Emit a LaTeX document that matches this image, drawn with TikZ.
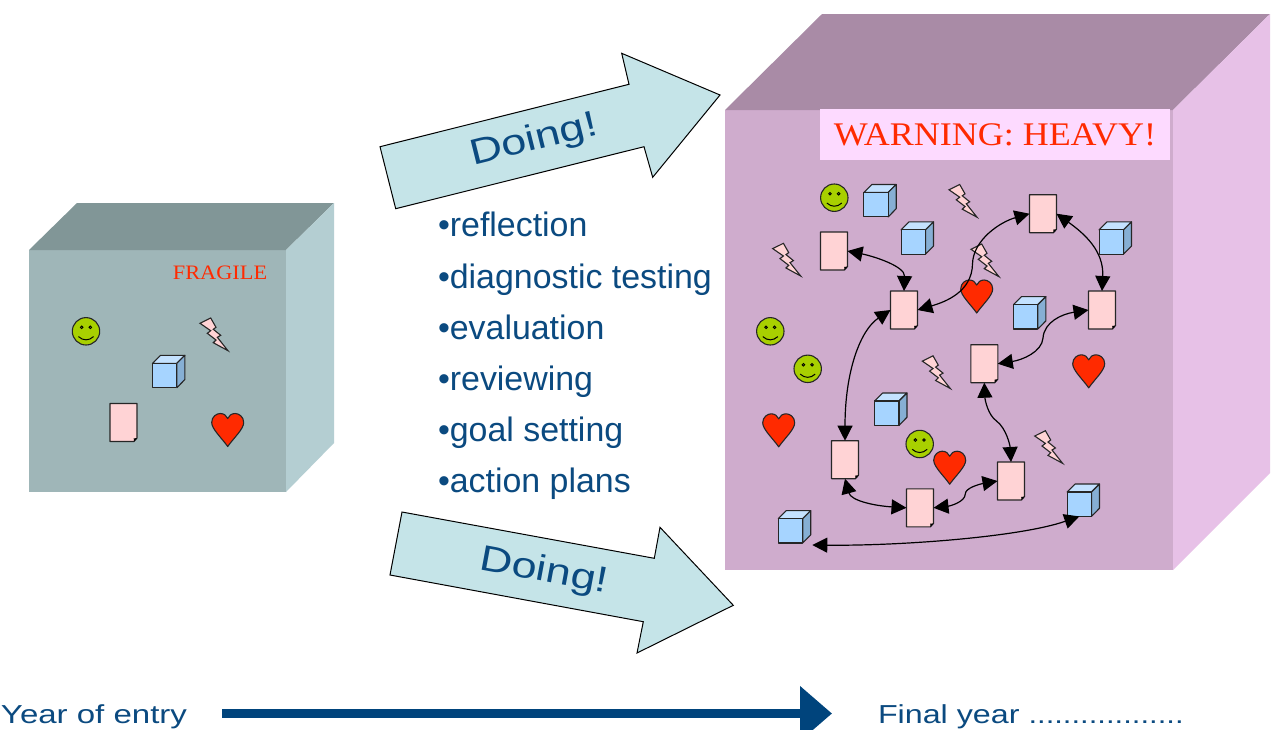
\documentclass[tikz,border=0pt]{standalone}
\usepackage{fontspec}
\setmainfont{Liberation Serif}
\newfontfamily\listfont{Liberation Sans}
\newfontfamily\widefont[FakeStretch=1.25]{Liberation Sans}
\newfontfamily\yearfont[FakeStretch=1.27]{Liberation Sans}
\newfontfamily\finalfont[FakeStretch=1.24]{Liberation Sans}
\newfontfamily\stretchserif[FakeStretch=1.09]{Liberation Serif}
\usetikzlibrary{arrows.meta}
\definecolor{navy}{HTML}{0B4A80}
\definecolor{barblue}{HTML}{00447C}
\definecolor{arrowfill}{HTML}{C5E4E8}
\definecolor{tfront}{HTML}{9FB6B8}
\definecolor{ttop}{HTML}{819697}
\definecolor{tside}{HTML}{B4CED2}
\definecolor{pfront}{HTML}{CFACCD}
\definecolor{ptop}{HTML}{A98BA6}
\definecolor{pside}{HTML}{E7C1E7}
\definecolor{warnbg}{HTML}{FDDAFF}
\definecolor{alert}{HTML}{FF2A00}
\definecolor{cubefront}{HTML}{A6D4FF}
\definecolor{cubetop}{HTML}{C4E2FF}
\definecolor{cubeside}{HTML}{86AFD4}
\definecolor{docpink}{HTML}{FFD3D5}
\definecolor{smile}{HTML}{A8D000}
\tikzset{
  bigarrow/.style={draw=black,line width=1pt,fill=arrowfill,line join=miter},
  outline/.style={draw=black!85!white,line width=1.1pt,line join=round},
  anchorbox/.style={rectangle,inner sep=0pt,outer sep=0pt,minimum width=#1,minimum height=#1},
  docbox/.style={rectangle,inner sep=0pt,outer sep=0pt,minimum width=27pt,minimum height=38pt},
  link/.style={draw=black,line width=1.2pt,{Triangle[length=15pt,width=15pt]}-{Triangle[length=15pt,width=15pt]}},
  listitem/.style={anchor=base west,inner sep=0pt,outer sep=0pt,text=navy,font=\listfont\fontsize{33.9}{38}\selectfont},
  doingtext/.style={inner sep=0pt,outer sep=0pt,text=navy,font=\widefont\fontsize{36}{42}\selectfont},
  axistext/.style={anchor=base west,inner sep=0pt,outer sep=0pt,text=navy},
}
\newcommand\cubeat[3]{\begin{scope}[shift={(#2,#3)}]
  \path[outline,fill=cubetop] (-12.2,-12.2)--(-4.2,-20.2)--(20.2,-20.2)--(12.2,-12.2)--cycle;
  \path[outline,fill=cubeside] (12.2,-12.2)--(20.2,-20.2)--(20.2,4)--(12.2,12.2)--cycle;
  \node[anchorbox=24.4pt,outline,fill=cubefront] (#1) at (0,0) {};
\end{scope}}
\newcommand\docat[3]{\begin{scope}[shift={(#2,#3)}]
  \node[docbox] (#1) at (0,0) {};
  \path[outline,fill=docpink] (-13.5,-19)--(13.5,-19)--(13.5,15.6)--(10.5,19)--(-13.5,19)--cycle;
  \fill[black] (13.5,15.6)--(10.5,19)--(10.2,15.9)--cycle;
\end{scope}}
\newcommand\smileat[3]{\begin{scope}[shift={(#2,#3)}]
  \node[circle,inner sep=0pt,outer sep=0pt,minimum size=27.4pt,outline,fill=smile] (#1) at (0,0) {};
  \draw[line width=.9pt] (-4.3,-4) circle (1.3) (4.3,-4) circle (1.3);
  \draw[line width=1pt] (-7.5,5.3) .. controls (-3,9.6) and (3,9.6) .. (7.5,5.3);
\end{scope}}
\newcommand\heartat[2]{\begin{scope}[shift={(#1,#2)}]
  \path[outline,fill=alert] (0,16.5) .. controls (-6,8) and (-16,-1) .. (-16,-7.5)
   .. controls (-16,-13.5) and (-11,-16.5) .. (-7.5,-16.5)
   .. controls (-4,-16.5) and (-1,-14.5) .. (0,-11.5)
   .. controls (1,-14.5) and (4,-16.5) .. (7.5,-16.5)
   .. controls (11,-16.5) and (16,-13.5) .. (16,-7.5)
   .. controls (16,-1) and (6,8) .. (0,16.5)--cycle;
\end{scope}}
\newcommand\boltat[2]{\begin{scope}[shift={(#1,#2)}]
  \path[outline,line join=miter,fill=docpink] (-14,-10.7)--(-3.3,-16)--(2,-6.7)--(-.7,-4.7)--(6.7,1.3)--(3.3,3.3)--(14,16.7)--(-.7,8.7)--(2,6)--(-6.7,-.7)--(-3.3,-3.3)--cycle;
\end{scope}}
\begin{document}
\begin{tikzpicture}[x=1pt,y=-1pt]
\clip (0,0) rectangle (1274,729);
\fill[white] (0,0) rectangle (1274,729);
% left box
\fill[tfront] (29,250) rectangle (286,492);
\fill[ttop] (29,250)--(77,203)--(334,203)--(286,250)--cycle;
\fill[tside] (286,250)--(334,203)--(334,443)--(286,492)--cycle;
\node[font=\stretchserif\fontsize{20.5}{24}\selectfont,text=alert,inner sep=0pt] (fragile) at (220,273) {FRAGILE};
\smileat{s0}{86}{331.3}
\boltat{214}{334}
\cubeat{c0}{164.7}{375.5}
\docat{d0}{123.5}{422.5}
\heartat{227.7}{430}
% right box
\fill[pfront] (725,110) rectangle (1173,570);
\fill[ptop] (725,110)--(822,14)--(1270,14)--(1173,110)--cycle;
\fill[pside] (1173,110)--(1270,14)--(1270,473)--(1173,570)--cycle;
\node[fill=warnbg,minimum width=350pt,minimum height=51pt,inner sep=0pt,font=\stretchserif\fontsize{33}{38}\selectfont,text=alert] (warn) at (995,134.5) {WARNING: HEAVY!};
% arrows
\path[bigarrow] (380,146.7)--(629,84.3)--(621.7,53.3)--(720,95)--(652.7,177.3)--(644,146.7)--(395.7,208.7)--cycle;
\node[doingtext,rotate=14] (doing1) at (534,141) {Doing!};
\path[bigarrow] (402,512)--(654.3,558.3)--(660,527.3)--(733.3,605.3)--(637,653)--(643.3,621.7)--(390,575)--cycle;
\node[doingtext,rotate=-10.5] (doing2) at (544,572) {Doing!};
% list
\node[listitem] (l1) at (438,236) {•reflection};
\node[listitem] (l2) at (438,288) {•diagnostic testing};
\node[listitem] (l3) at (438,339) {•evaluation};
\node[listitem] (l4) at (438,390) {•reviewing};
\node[listitem] (l5) at (438,441) {•goal setting};
\node[listitem] (l6) at (438,492) {•action plans};
% symbols right
\smileat{s1}{834.3}{197.7}
\smileat{s2}{770.3}{331.3}
\smileat{s3}{807.7}{368.8}
\smileat{s4}{919.7}{444}
\cubeat{c1}{876}{204.7}
\cubeat{c2}{913.3}{242}
\cubeat{c3}{1111.3}{242}
\cubeat{c4}{1025.7}{316.8}
\cubeat{c5}{886.8}{413.2}
\cubeat{c6}{1079.3}{504.2}
\cubeat{c7}{790.5}{530.8}
\boltat{963}{200.5}
\boltat{786.7}{259.3}
\boltat{985}{260}
\boltat{1048.7}{446.7}
\boltat{936.3}{371.8}
\heartat{976.7}{296.5}
\heartat{1088.7}{371.3}
\heartat{778.7}{430.3}
\heartat{949.7}{467.7}
\docat{A}{834}{251}
\docat{B}{904}{310}
\docat{C}{1043}{213.7}
\docat{D}{1102}{310}
\docat{E}{984.3}{363.7}
\docat{F}{845}{459.7}
\docat{G}{920}{507.8}
\docat{H}{1011}{481}
\coordinate (m1) at (972.5,264);
\coordinate (m2) at (1043,338);
\coordinate (m3) at (996.5,421);
\coordinate (m4) at (965.3,494);
% connectors
\draw[link] (A.east) .. controls +(25,5) and +(1,-25) .. (B.north);
\draw[link] (B.east) .. controls (945,302) and (972,292) .. (m1) .. controls (973,240) and (1000,222) .. (C.west);
\draw[link] (C.east) .. controls +(28,20) and +(2,-40) .. (D.north);
\draw[link] (B.west) .. controls +(-30,20) and +(0,-70) .. (F.north);
\draw[link] (D.west) .. controls (1062,314) and (1044,322) .. (m2) .. controls (1042,352) and (1022,360) .. (E.east);
\draw[link] (E.south) .. controls (985,400) and (988,415) .. (m3) .. controls (1006,428) and (1010,445) .. (H.north);
\draw[link] (F.south) .. controls +(6,22) and +(-32,-2) .. (G.west);
\draw[link] (G.east) .. controls (950,506) and (965,502) .. (m4) .. controls (965,488) and (980,484) .. (H.west);
\draw[link] ([shift={(9.6,2)}]c7.south east) .. controls (900,546) and (1020,537) .. (c6.south);
% axis
\coordinate (axisstart) at (222,713.5);
\coordinate (axisend) at (832,713.5);
\draw[barblue,line width=9.5pt,-{Triangle[length=32pt,width=53pt]}] (axisstart) -- (axisend);
\node[axistext,font=\yearfont\fontsize{26}{30}\selectfont] (yearentry) at (1,723.5) {Year of entry};
\node[axistext,font=\finalfont\fontsize{26}{30}\selectfont] (finalyear) at (878,723) {Final year {\fontsize{25}{30}\selectfont ..................}};
\end{tikzpicture}
\end{document}
